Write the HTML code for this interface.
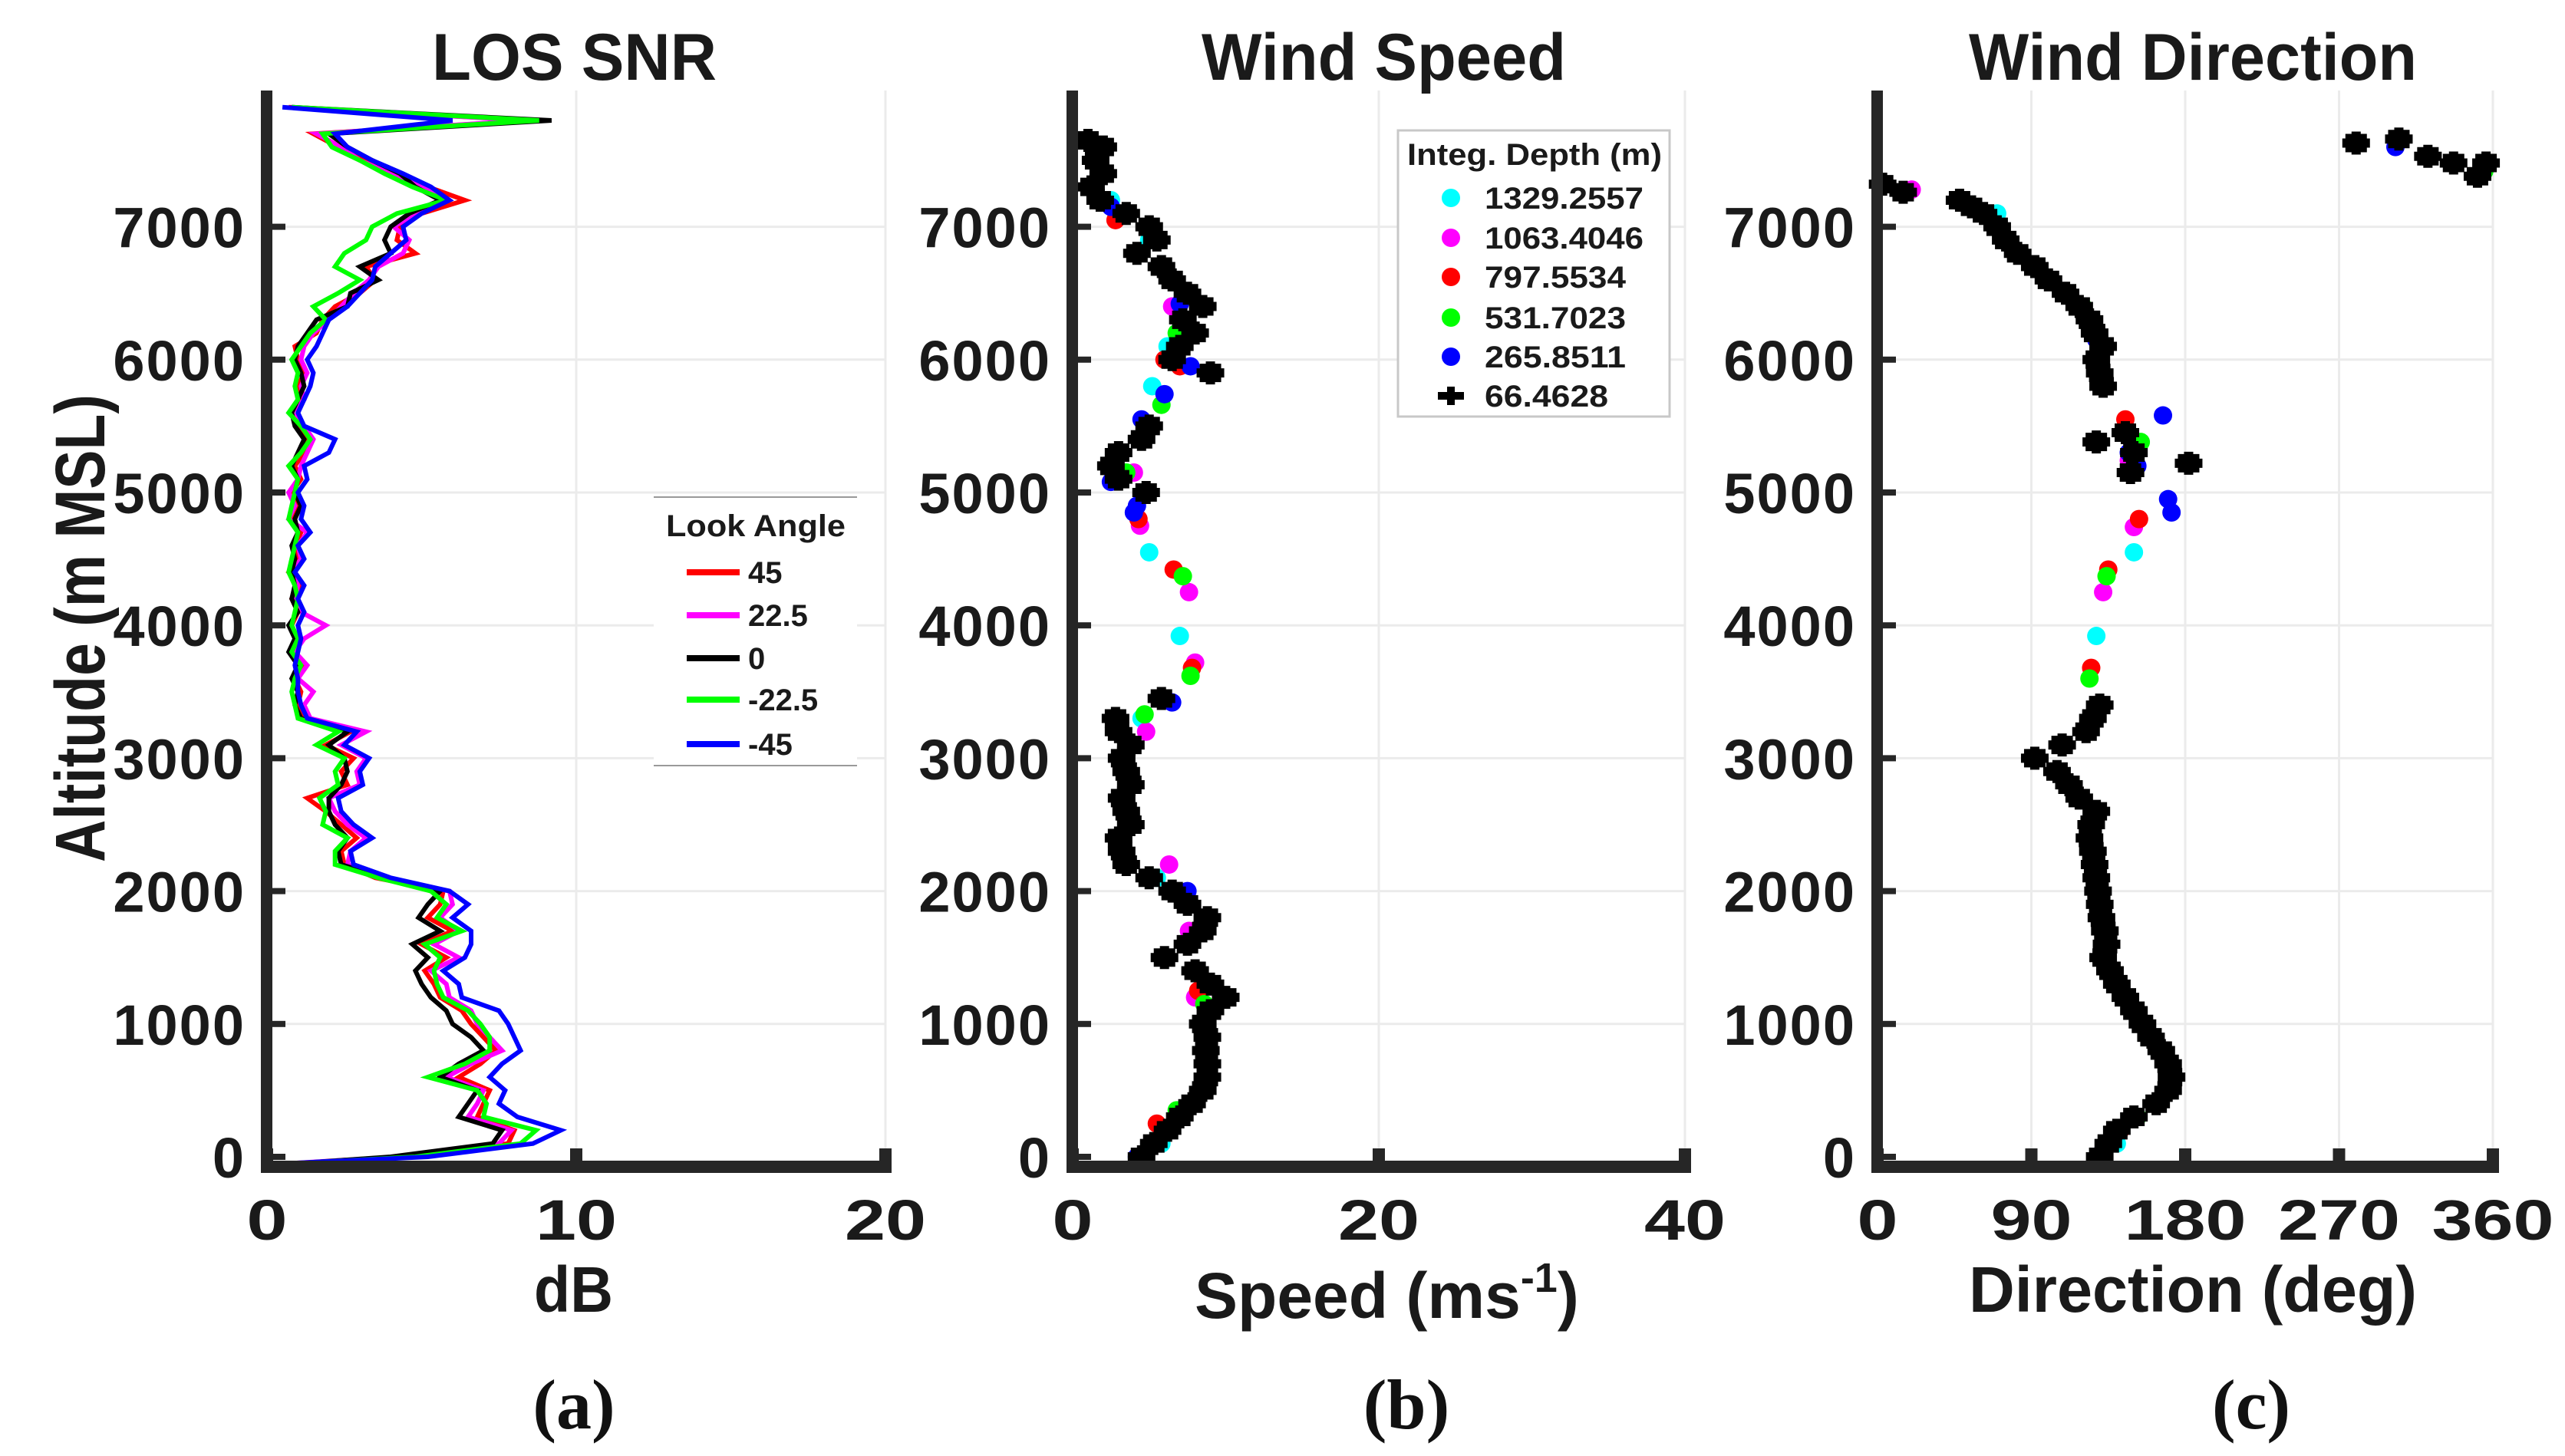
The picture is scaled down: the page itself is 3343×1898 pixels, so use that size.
<!DOCTYPE html>
<html><head><meta charset="utf-8"><title>Lidar profiles</title>
<style>
html,body{margin:0;padding:0;background:#fff;}
svg{display:block;}
text{font-family:"Liberation Sans",Arial,sans-serif;font-weight:bold;fill:#1a1a1a;}
.cap{font-family:"Liberation Serif",serif;font-weight:bold;fill:#111;}
</style></head>
<body>
<svg id="fig" xmlns="http://www.w3.org/2000/svg" width="3343" height="1898" viewBox="0 0 3343 1898">
<rect x="0" y="0" width="3343" height="1898" fill="#fff"/>
</svg>
<script>
// ---------- Panel (a) LOS SNR data ----------
const altA=[-50,0,100,200,300,400,500,600,700,800,900,1000,1100,1200,1300,1400,1500,1600,1700,1800,1900,2000,2100,2200,2300,2400,2500,2600,2700,2800,2900,3000,3100,3200,3300,3400,3500,3600,3700,3800,3900,4000,4100,4200,4300,4400,4500,4600,4700,4800,4900,5000,5100,5200,5300,5400,5500,5600,5700,5800,5900,6000,6100,6200,6300,6400,6500,6600,6700,6800,6900,7000,7100,7200,7300,7400,7500,7600,7700,7800,7900];
const snr45=[0.8,4.5,7.8,8.0,6.8,7.0,7.2,6.2,6.9,7.4,7.0,6.6,6.3,5.6,5.4,5.1,5.8,5.0,6.0,5.2,5.6,5.7,3.5,2.5,2.4,2.9,2.4,1.9,1.3,2.6,2.4,2.8,1.9,2.7,1.2,1.0,1.1,0.9,1.2,0.8,0.9,0.8,1.0,0.8,1.1,0.7,1.0,0.9,1.1,0.8,1.0,0.8,1.1,0.9,1.2,1.3,1.0,0.8,1.1,1.0,1.2,1.0,0.9,1.6,1.8,2.2,3.0,3.5,3.2,4.8,4.2,4.3,5.0,6.4,5.2,4.1,3.1,2.3,1.5,8.6,0.7];
const snr22=[0.7,4.2,7.5,7.9,6.5,6.8,7.0,5.8,6.6,7.6,7.2,6.8,6.6,5.9,5.8,5.3,6.2,5.4,6.2,5.6,6.0,5.9,3.8,2.6,2.7,3.2,2.6,2.2,2.0,3.0,2.9,3.2,2.4,3.2,1.4,1.2,1.5,1.0,1.3,0.9,1.2,1.9,1.1,0.9,1.0,0.8,1.1,1.0,1.3,0.7,0.9,0.7,1.0,1.1,1.3,1.5,1.2,0.8,1.2,1.1,1.3,1.1,1.2,1.5,2.0,2.4,2.8,3.3,3.6,4.4,4.6,4.1,4.8,5.8,5.0,4.0,3.0,2.4,1.6,8.4,0.8];
const snr0=[0.9,4.0,7.3,7.6,6.2,6.5,6.8,5.6,6.2,7.0,6.6,6.0,5.8,5.3,5.0,4.8,5.2,4.7,5.6,4.9,5.2,5.6,3.8,2.4,2.3,2.6,2.2,2.0,2.0,2.4,2.6,2.5,2.0,2.6,1.1,0.9,1.0,0.8,1.0,0.7,0.9,0.7,1.0,0.8,0.9,0.8,0.9,0.8,1.0,0.9,1.1,0.9,1.0,0.8,1.0,1.2,0.9,0.8,1.0,1.2,1.1,0.9,1.0,1.3,1.6,2.6,2.7,3.6,3.0,4.0,3.8,4.0,4.6,5.6,4.8,4.3,3.4,2.6,2.0,9.2,0.8];
const snrm22=[0.8,4.8,8.2,8.7,7.0,7.1,6.8,5.2,6.4,7.2,7.2,6.9,6.5,5.7,5.5,5.4,5.6,5.1,6.3,5.5,5.8,5.3,3.6,2.2,2.2,2.6,1.8,1.9,1.7,2.3,2.2,2.5,1.6,2.3,1.0,0.9,0.8,0.9,1.1,0.8,1.0,0.8,0.9,1.0,0.9,0.7,0.8,0.9,1.0,0.7,0.8,0.9,1.0,0.7,1.1,1.4,1.1,0.7,1.0,0.9,1.0,0.8,1.1,1.4,1.9,1.5,2.3,3.0,2.2,2.5,3.2,3.4,4.2,5.8,4.7,3.8,3.0,2.1,1.8,8.8,0.8];
const snrm45=[0.6,5.2,8.6,9.5,8.1,7.5,7.7,7.2,7.6,8.2,8.0,7.8,7.5,6.3,6.2,5.7,6.4,6.6,6.6,6.0,6.5,5.9,4.0,2.8,2.7,3.4,2.8,2.4,2.3,3.1,3.0,3.3,2.5,2.9,1.3,1.1,1.0,1.0,0.9,1.0,1.1,1.0,1.2,1.0,1.2,0.9,1.2,1.0,1.4,1.1,1.2,1.0,1.3,1.2,2.0,2.2,1.2,1.0,1.2,1.4,1.5,1.3,1.6,1.8,2.0,2.6,3.0,3.4,3.5,4.0,4.5,4.4,5.0,5.9,5.3,4.4,3.4,2.6,2.2,6.0,0.5];
const snrNames=["45","22.5","0","-22.5","-45"];
const snrColors=["#ff0000","#ff00ff","#000000","#00ff00","#0000ff"];

// ---------- Panel (b) Wind speed data ----------
const spdBlackAlt=[0,100,200,300,400,500,600,700,800,900,1000,1100,1200,1300,1400,1500,1600,1700,1800,1900,2000,2100,2200,2300,2400,2500,2600,2700,2800,2900,3000,3100,3200,3300,3450,5000,5100,5200,5300,5400,5500,5900,6000,6100,6200,6300,6400,6500,6600,6700,6800,6900,7000,7100,7200,7300,7400,7500,7600,7650];
const spdBlack=[4.5,5.3,6.2,7.0,7.8,8.5,8.8,8.8,8.7,8.8,8.5,9.0,10.0,9.0,8.0,6.0,7.5,8.5,8.8,7.5,6.5,5.0,3.5,3.2,3.0,3.8,3.5,3.2,3.8,3.5,3.2,3.8,3.0,2.8,5.8,4.8,3.0,2.5,3.0,4.5,5.0,9.0,6.5,7.0,8.0,7.2,8.5,7.5,6.5,5.8,4.2,5.5,5.0,3.5,1.8,1.2,2.0,1.5,2.0,1.0];
const spdCyanAlt=[100,1000,2100,3300,3920,4550,5200,5800,6100,6900,7200];
const spdCyan=[5.8,8.5,5.5,4.5,7.0,5.0,2.8,5.2,6.2,5.0,2.5];
const spdMagAlt=[200,1200,1700,2200,3200,3720,4250,4750,5150,6400,7100];
const spdMag=[6.2,8.0,7.6,6.3,4.8,8.0,7.6,4.4,4.0,6.5,3.0];
const spdRedAlt=[250,1250,3680,4420,4800,5150,5950,6000,7050];
const spdRed=[5.5,8.2,7.8,6.6,4.3,3.3,7.0,6.0,2.8];
const spdGrnAlt=[350,1150,3330,3620,4370,5150,5660,6200];
const spdGrn=[6.8,8.6,4.7,7.7,7.2,3.5,5.8,6.8];
const spdBluAlt=[0,900,2000,3420,4850,4900,5080,5550,5740,5950,6420,7150];
const spdBlu=[4.2,8.6,7.5,6.5,4.0,4.2,2.5,4.5,6.0,7.7,7.0,2.5];

// ---------- Panel (c) Wind direction data ----------
const dirBlackAlt=[0,100,200,300,400,500,600,700,800,900,1000,1100,1200,1300,1400,1500,1600,1700,1800,1900,2000,2100,2200,2300,2400,2500,2600,2700,2800,2900,3000,3100,3200,3300,3400,5150,5220,5300,5380,5450,5800,5900,6000,6100,6200,6300,6400,6500,6600,6700,6800,6900,7000,7100,7150,7200,7260,7320,7630,7660,7530,7480,7380,7480];
const dirBlack=[130,135,140,150,163,170,172,170,166,160,155,150,145,140,136,132,134,133,131,130,129,128,127,126,124,125,128,118,112,105,92,108,122,126,130,148,182,150,128,145,132,130,128,132,127,124,118,110,100,92,82,75,70,62,55,48,15,3,280,305,322,337,351,356];
const dirCyanAlt=[100,3920,4550,5200,6000,7100];
const dirCyan=[140,128,150,150,130,70];
const dirMagAlt=[150,4250,4740,5240,7280];
const dirMag=[138,132,150,147,20];
const dirRedAlt=[200,3680,4420,4800,5550,7450];
const dirRed=[142,125,135,153,145,355];
const dirGrnAlt=[300,3600,4370,5380,6400,7420];
const dirGrn=[152,124,134,154,120,355];
const dirBluAlt=[50,2500,4850,4950,5200,5300,5580,5820,6150,7600];
const dirBlu=[132,125,172,170,152,147,167,132,128,303];

const depthNames=["1329.2557","1063.4046","797.5534","531.7023","265.8511","66.4628"];
const depthColors=["#00ffff","#ff00ff","#ff0000","#00ff00","#0000ff","#000000"];

const yTicks=[0,1000,2000,3000,4000,5000,6000,7000];
const xTicksA=[0,10,20];
const xTicksB=[0,20,40];
const xTicksC=[0,90,180,270,360];

// ---------- layout ----------
const NS="http://www.w3.org/2000/svg";
const svg=document.getElementById("fig");
const Y0=1508, PER=0.1732, AXY=1521, TOP=118;
function yS(a){return Y0-a*PER;}
function mk(tag,attrs,parent){const e=document.createElementNS(NS,tag);for(const k in attrs)e.setAttribute(k,attrs[k]);(parent||svg).appendChild(e);return e;}

function axes(g,x0,x1,xmax,xt,key){
  const xs=v=>x0+v*(x1-x0)/xmax;
  for(const t of yTicks){if(t===0)continue;
    const l=mk("line",{x1:x0,x2:x1,y1:yS(t),y2:yS(t),stroke:"#ebebeb","stroke-width":3},g);
    
    }
  for(const t of xt){if(t===0)continue;
    const l=mk("line",{x1:xs(t),x2:xs(t),y1:TOP,y2:AXY,stroke:"#ebebeb","stroke-width":3},g);
    
    }
  return xs;
}
function frame(g,x0,x1,xmax,xt,key){
  const xs=v=>x0+v*(x1-x0)/xmax;
  const ya=mk("rect",{x:x0-8,y:TOP,width:15,height:AXY-TOP+8,fill:"#262626"},g);
  
  
  const xa=mk("rect",{x:x0-8,y:AXY-8,width:x1-x0+16,height:16,fill:"#262626"},g);
  
  
  for(const t of yTicks){
    const tk=mk("rect",{x:x0,y:yS(t)-4,width:24,height:8,fill:"#262626"},g);
    
    
    const lb=mk("text",{x:x0-28,y:yS(t)+27,"text-anchor":"end","font-size":74,"letter-spacing":"2"},g);
    lb.textContent=String(t);
    
    
  }
  for(const t of xt){
    const tk=mk("rect",{x:xs(t)-8,y:AXY-24,width:16,height:20,fill:"#262626"},g);
    
    
    const s=String(t);
    const lb=mk("text",{x:xs(t),y:1616,"text-anchor":"middle","font-size":74,textLength:s.length*53,lengthAdjust:"spacingAndGlyphs"},g);
    lb.textContent=s;
    
    
  }
}
function txt(s,attrs,name,cls){const t=mk("text",attrs);t.textContent=s;if(cls)t.setAttribute("class",cls);
  
  
  return t;}

// ===== Panel A =====
const gA=mk("g",{});


const xsA=axes(gA,348,1154,20,xTicksA,"a");
const snrSeries=[snr45,snr22,snr0,snrm22,snrm45];
snrSeries.forEach((ser,i)=>{
  const d=ser.map((v,j)=>(j?"L":"M")+xsA(v).toFixed(1)+","+yS(altA[j]).toFixed(1)).join(" ");
  const p=mk("path",{d:d,fill:"none",stroke:snrColors[i],"stroke-width":6,"stroke-linejoin":"miter"},gA);
  
  
});
frame(gA,348,1154,20,xTicksA,"a");
const lgA=mk("g",{});


mk("rect",{x:852,y:648,width:265,height:350,fill:"#fff"},lgA);
mk("line",{x1:852,x2:1117,y1:648,y2:648,stroke:"#999","stroke-width":2},lgA);
mk("line",{x1:852,x2:1117,y1:998,y2:998,stroke:"#999","stroke-width":2},lgA);
const lta=mk("text",{x:868,y:699,"font-size":40,textLength:234,lengthAdjust:"spacingAndGlyphs"},lgA);
lta.textContent="Look Angle";


[746,802,858,912,970].forEach((y,i)=>{
  const l=mk("line",{x1:895,x2:964,y1:y,y2:y,stroke:snrColors[i],"stroke-width":8},lgA);
  
  
  const t=mk("text",{x:975,y:y+14,"font-size":40},lgA);
  t.textContent=snrNames[i];
  
  
});

// ===== markers =====
function dot(g,x,y,c){const e=mk("circle",{cx:x,cy:y,r:12,fill:c},g);
  
  }
function plus(g,x,y){const e=mk("path",{d:`M${x-18},${y}H${x+18}M${x},${y-15}V${y+15}M${x-8},${y-6}H${x+8}V${y+6}H${x-8}Z`,stroke:"#000","stroke-width":12,fill:"#000"},g);
  
  }
function scatterPanel(g,xs,sets,blackAlt,black){
  sets.forEach(s=>s[1].forEach((v,j)=>dot(g,xs(v),yS(s[0][j]),s[2])));
  black.forEach((v,j)=>plus(g,xs(v),yS(blackAlt[j])));
}
function depthLegend(g){
  mk("rect",{x:1822,y:170,width:354,height:373,fill:"#fff",stroke:"#c8c8c8","stroke-width":3},g);
  const t=mk("text",{x:1834,y:215,"font-size":40,textLength:332,lengthAdjust:"spacingAndGlyphs"},g);
  t.textContent="Integ. Depth (m)";
  
  
  [258,310,361,414,465,516].forEach((y,i)=>{
    if(i<5)dot(g,1891,y,depthColors[i]);else{
      const e=mk("path",{d:`M1874,${y}H1908M1891,${y-12}V${y+12}`,stroke:"#000","stroke-width":10},g);
      
      }
    const e=mk("text",{x:1935,y:y+14,"font-size":40,textLength:depthNames[i].length*23,lengthAdjust:"spacingAndGlyphs"},g);
    e.textContent=depthNames[i];
    
    
  });
}

// ===== Panel B =====
const gB=mk("g",{});


const xsB=axes(gB,1398,2196,40,xTicksB,"b");
scatterPanel(gB,xsB,[[spdCyanAlt,spdCyan,depthColors[0]],[spdMagAlt,spdMag,depthColors[1]],[spdRedAlt,spdRed,depthColors[2]],[spdGrnAlt,spdGrn,depthColors[3]],[spdBluAlt,spdBlu,depthColors[4]]],spdBlackAlt,spdBlack);
frame(gB,1398,2196,40,xTicksB,"b");
const lgB=mk("g",{});


depthLegend(lgB);

// ===== Panel C =====
const gC=mk("g",{});


const xsC=axes(gC,2447,3249,360,xTicksC,"c");
scatterPanel(gC,xsC,[[dirCyanAlt,dirCyan,depthColors[0]],[dirMagAlt,dirMag,depthColors[1]],[dirRedAlt,dirRed,depthColors[2]],[dirGrnAlt,dirGrn,depthColors[3]],[dirBluAlt,dirBlu,depthColors[4]]],dirBlackAlt,dirBlack);
frame(gC,2447,3249,360,xTicksC,"c");

// ===== titles & labels =====
txt("LOS SNR",{x:563,y:104,"font-size":86,textLength:371,lengthAdjust:"spacingAndGlyphs"},"title-los-snr");
txt("Wind Speed",{x:1566,y:104,"font-size":86,textLength:475,lengthAdjust:"spacingAndGlyphs"},"title-wind-speed");
txt("Wind Direction",{x:2566,y:104,"font-size":86,textLength:584,lengthAdjust:"spacingAndGlyphs"},"title-wind-direction");
txt("dB",{x:696,y:1710,"font-size":84,textLength:103,lengthAdjust:"spacingAndGlyphs"},"x-axis-title-db");
const sp=txt("",{x:1557,y:1718,"font-size":84},"x-axis-title-speed");
sp.innerHTML='<tspan>Speed (ms</tspan><tspan dy="-34" font-size="54">-1</tspan><tspan dy="34">)</tspan>';
txt("Direction (deg)",{x:2566,y:1710,"font-size":84,textLength:584,lengthAdjust:"spacingAndGlyphs"},"x-axis-title-direction");
txt("Altitude (m MSL)",{x:0,y:0,"font-size":92,textLength:610,lengthAdjust:"spacingAndGlyphs",transform:"translate(136,1124) rotate(-90)"},"y-axis-title");
txt("(a)",{x:748,y:1862,"font-size":92,"text-anchor":"middle"},"caption-a","cap");
txt("(b)",{x:1833,y:1862,"font-size":92,"text-anchor":"middle"},"caption-b","cap");
txt("(c)",{x:2934,y:1862,"font-size":92,"text-anchor":"middle"},"caption-c","cap");
</script>
</body></html>
